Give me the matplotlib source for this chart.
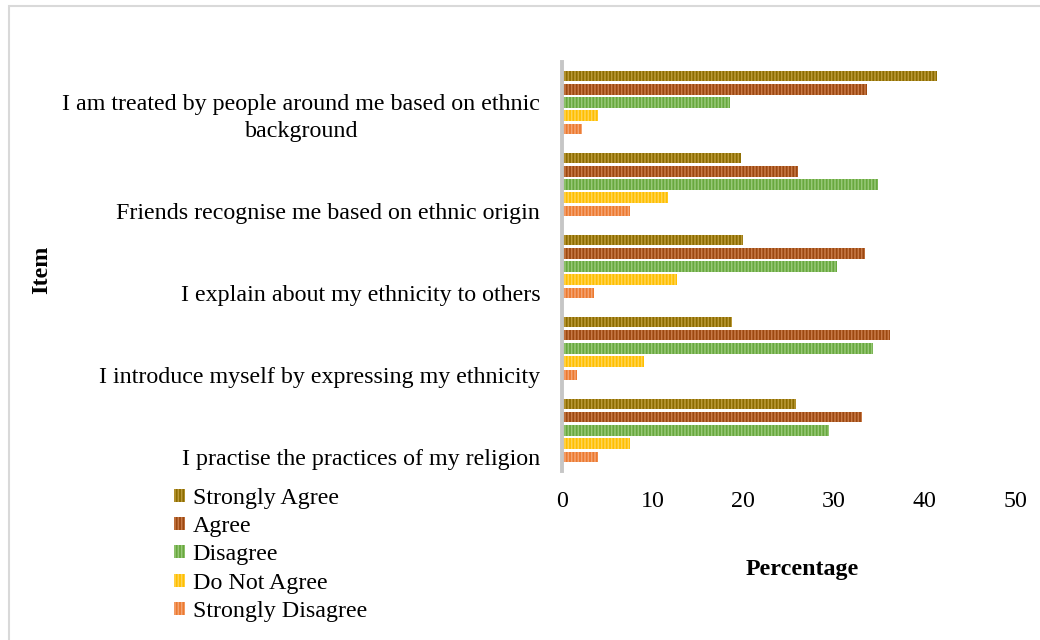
import matplotlib
matplotlib.use('Agg')
import matplotlib.pyplot as plt
from matplotlib.patches import Patch, Rectangle
import numpy as np

plt.rcParams['font.family'] = ['Liberation Serif', 'DejaVu Serif']
plt.rcParams['hatch.linewidth'] = 1.1

# survey items, top to bottom
items = [
    'I am treated by people around me based on ethnic\nbackground',
    'Friends recognise me based on ethnic origin',
    'I explain about my ethnicity to others',
    'I introduce myself by expressing my ethnicity',
    'I practise the practices of my religion',
]
responses = ['Strongly Agree', 'Agree', 'Disagree', 'Do Not Agree', 'Strongly Disagree']

# percentages per response, one value per item (same order as items)
strongly_agree = [41.4, 19.7, 20.0, 18.8, 25.8]
agree = [33.7, 26.1, 33.4, 36.2, 33.1]
disagree = [18.5, 34.9, 30.3, 34.3, 29.5]
do_not_agree = [4.0, 11.7, 12.7, 9.0, 7.5]
strongly_disagree = [2.2, 7.5, 3.5, 1.6, 4.0]

series = [strongly_agree, agree, disagree, do_not_agree, strongly_disagree]
base_colors = ['#8c6c00', '#9c4810', '#68a83e', '#ffbf00', '#ec7a30']
stripe_colors = ['#bb9a3a', '#c87a48', '#98c878', '#ffd455', '#f4a474']

FS = 17.3

fig = plt.figure(figsize=(10.4, 6.4), dpi=100)
ax = fig.add_axes([0.5404, 0.2633, 0.4356, 0.6406])

y = np.arange(len(items))
pitch = 0.16
height = 0.125
for k, (vals, fc, sc) in enumerate(zip(series, base_colors, stripe_colors)):
    ax.barh(y + (k - 2) * pitch, vals, height=height, color=fc,
            edgecolor=sc, linewidth=0, hatch='|||||')

ax.set_xlim(0, 50)
ax.set_ylim(len(items) - 0.5, -0.5)
ax.set_xticks(range(0, 51, 10))
ax.tick_params(axis='x', length=0, pad=14, labelsize=FS)
ax.set_yticks([])
for s in ['top', 'right', 'bottom']:
    ax.spines[s].set_visible(False)
ax.spines['left'].set_color('#c6c6c6')
ax.spines['left'].set_linewidth(2.8)

# item labels sit low in each band, right-aligned against the axis
for i, lab in enumerate(items):
    ax.text(-2.4, i + 0.487, lab, ha='right', va='bottom', multialignment='center',
            fontsize=FS, linespacing=1.42, clip_on=False)

fig.text(802 / 1040, 1 - 569 / 640, 'Percentage', ha='center', va='center',
         fontsize=FS, fontweight='bold')
fig.text(42 / 1040, 1 - 270 / 640, 'Item', ha='center', va='center',
         rotation=90, fontsize=FS, fontweight='bold')

handles = [Patch(facecolor=fc, edgecolor=sc, linewidth=0, hatch='|||||')
           for fc, sc in zip(base_colors, stripe_colors)]
fig.legend(handles, responses, loc='upper left', bbox_to_anchor=(174 / 1040, 1 - 488 / 640),
           frameon=False, fontsize=FS, handlelength=0.45, handleheight=0.45,
           handletextpad=0.32, labelspacing=0.3, borderaxespad=0, borderpad=0)

fig.add_artist(Rectangle((9 / 1040, -0.1), 1.2, 1.1 - 6 / 640, transform=fig.transFigure,
                         fill=False, edgecolor='#d9d9d9', linewidth=1.5))

fig.savefig('out.png', dpi=100)
